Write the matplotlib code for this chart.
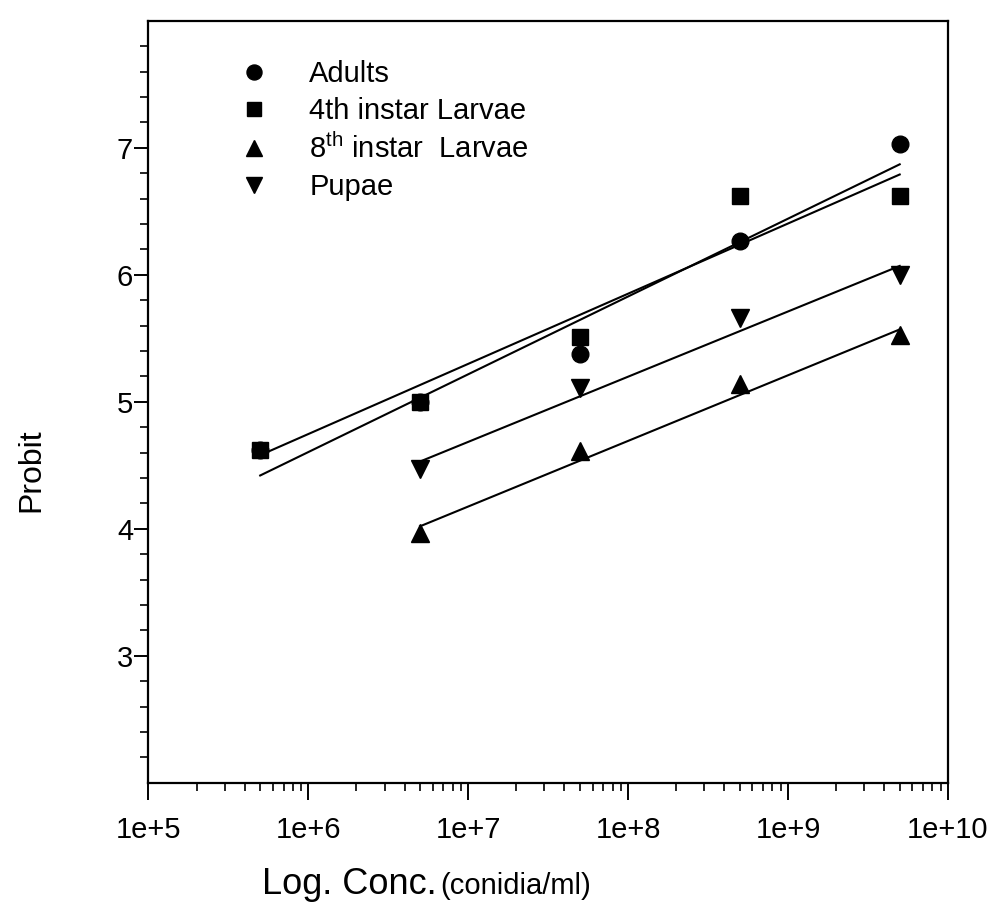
import numpy as np
import matplotlib.pyplot as plt
from matplotlib.ticker import LogLocator, FixedLocator, NullFormatter

plt.rcParams['font.family'] = ['Liberation Sans', 'DejaVu Sans']
plt.rcParams['mathtext.fontset'] = 'custom'
plt.rcParams['mathtext.rm'] = 'Liberation Sans'
plt.rcParams['mathtext.it'] = 'Liberation Sans'

# Concentraciones (conidia/ml)
conc = [5e5, 5e6, 5e7, 5e8, 5e9]

# Probit observados
adults = [4.62, 5.00, 5.38, 6.27, 7.03]
larvae4 = [4.62, 5.00, 5.51, 6.62, 6.62]
conc_late = [5e6, 5e7, 5e8, 5e9]
larvae8 = [3.97, 4.61, 5.14, 5.53]
pupae = [4.47, 5.11, 5.66, 6.00]

# Rectas ajustadas (extremos)
fit_adults_x = [5e5, 5e9]
fit_adults_y = [4.42, 6.87]
fit_larvae4_x = [5e5, 5e9]
fit_larvae4_y = [4.58, 6.79]
fit_larvae8_x = [5e6, 5e9]
fit_larvae8_y = [4.02, 5.57]
fit_pupae_x = [5e6, 5e9]
fit_pupae_y = [4.53, 6.07]

x_ticks = [1e5, 1e6, 1e7, 1e8, 1e9, 1e10]
x_ticklabels = ["1e+5", "1e+6", "1e+7", "1e+8", "1e+9", "1e+10"]
y_ticks = [3, 4, 5, 6, 7]

fig = plt.figure(figsize=(10.03, 9.05), dpi=100)
ax = fig.add_axes([0.148, 0.135, 0.797, 0.842])

lw = 1.5
for fx, fy in [(fit_adults_x, fit_adults_y), (fit_larvae4_x, fit_larvae4_y),
               (fit_larvae8_x, fit_larvae8_y), (fit_pupae_x, fit_pupae_y)]:
    ax.plot(fx, fy, color="black", linewidth=lw)

ms = 12
ax.plot(conc, adults, "o", color="black", markersize=ms, linestyle="none", label="Adults")
ax.plot(conc, larvae4, "s", color="black", markersize=ms - 1, linestyle="none",
        label="4th instar Larvae")
ax.plot(conc_late, larvae8, "^", color="black", markersize=ms + 1, linestyle="none",
        label="8$^{\\mathrm{th}}$ instar  Larvae")
ax.plot(conc_late, pupae, "v", color="black", markersize=ms + 1, linestyle="none",
        label="Pupae")

ax.set_xscale("log")
ax.set_xlim(1e5, 1e10)
ax.set_ylim(2, 8)
ax.xaxis.set_major_locator(FixedLocator(x_ticks))
ax.set_xticklabels(x_ticklabels)
ax.xaxis.set_minor_locator(LogLocator(base=10, subs=np.arange(2, 10)))
ax.xaxis.set_minor_formatter(NullFormatter())
ax.yaxis.set_major_locator(FixedLocator(y_ticks))
ax.yaxis.set_minor_locator(FixedLocator(np.arange(2.2, 8.0, 0.2)))

ax.tick_params(axis="both", which="major", direction="out", length=10, width=1.4,
               labelsize=21, pad=1)
ax.tick_params(axis="both", which="minor", direction="out", length=6, width=1.2)
ax.tick_params(axis="x", which="major", length=12, pad=12)
for s in ax.spines.values():
    s.set_linewidth(1.6)

fig.text(0.261, 0.012, "Log. Conc.", fontsize=26, ha="left", va="baseline")
fig.text(0.439, 0.012, "(conidia/ml)", fontsize=21, ha="left", va="baseline")
ax.set_ylabel("Probit", fontsize=23)
ax.yaxis.set_label_coords(-0.128, 0.41)

leg = ax.legend(loc="upper left", bbox_to_anchor=(0.07, 0.975), frameon=False,
                fontsize=21, handletextpad=0.9, labelspacing=0.3,
                borderpad=0.2, markerscale=0.9)

fig.savefig("out.png", dpi=100)
